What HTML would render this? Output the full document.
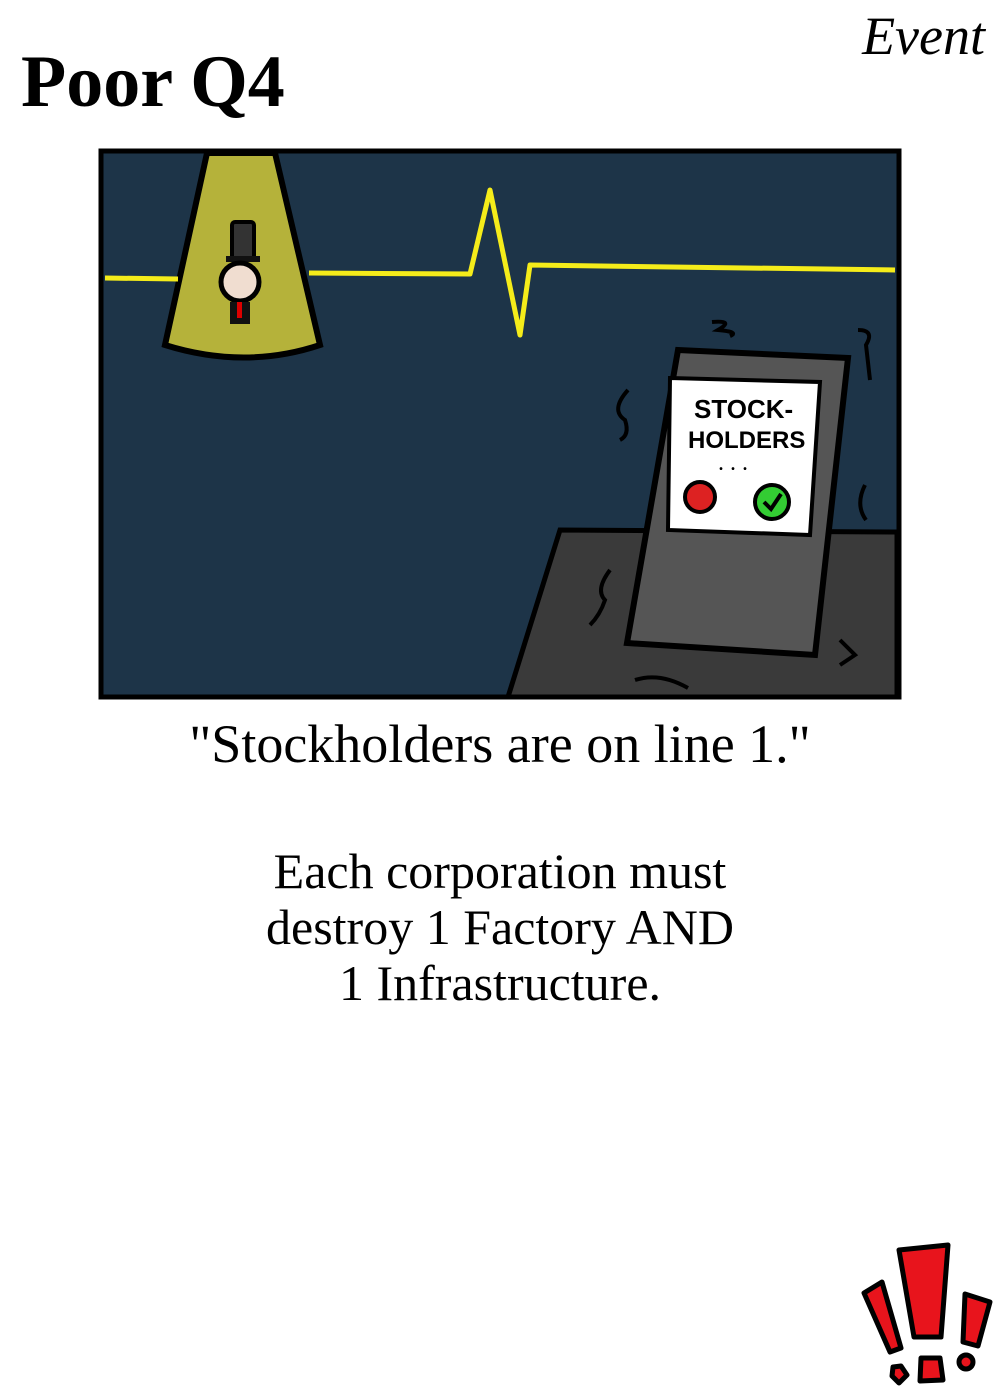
<!DOCTYPE html>
<html><head><meta charset="utf-8"><style>
body{margin:0;width:1000px;height:1400px;background:#fff;position:relative;overflow:hidden;font-family:"Liberation Serif",serif}
.t{position:absolute;white-space:nowrap}
</style></head><body>
<div class="t" style="left:21px;top:40px;font-size:74px;font-weight:bold">Poor Q4</div>
<div class="t" style="right:15px;top:5px;font-size:54px;font-style:italic">Event</div>
<svg style="position:absolute;left:0;top:0" width="1000" height="1400">
<rect x="101" y="151" width="798" height="546" fill="#1d3448" stroke="#000" stroke-width="5"/>
<path d="M207,153 L275,153 L320,345 Q245,370 165,345 Z" fill="#b5b23a" stroke="#000" stroke-width="6"/>
<g stroke="#f5ec1a" stroke-width="5" fill="none" stroke-linejoin="round">
<path d="M105,278 L178,279"/>
<path d="M309,273 L470,274 L490,190 L520,335 L530,265 L895,270"/>
</g>
<rect x="232" y="222" width="22" height="38" rx="3" fill="#333" stroke="#000" stroke-width="4"/>
<rect x="226" y="256" width="34" height="6" fill="#111"/>
<circle cx="240" cy="282" r="19" fill="#f0ddd0" stroke="#000" stroke-width="5"/>
<rect x="230" y="302" width="20" height="22" fill="#111"/>
<rect x="237" y="302" width="5" height="16" fill="#d00"/>
<path d="M508,697 L560,530 L897,532 L897,697 Z" fill="#3a3a3a" stroke="#000" stroke-width="5"/>
<path d="M678,350 L848,358 L815,655 L627,643 Z" fill="#555" stroke="#000" stroke-width="6"/>
<path d="M670,378 L820,382 L810,535 L668,530 Z" fill="#fff" stroke="#000" stroke-width="4"/>
<text x="694" y="418" font-family="Liberation Sans,sans-serif" font-size="26" font-weight="bold">STOCK-</text>
<text x="688" y="448" font-family="Liberation Sans,sans-serif" font-size="24" font-weight="bold">HOLDERS</text>
<text x="718" y="470" font-size="24">. . .</text>
<circle cx="700" cy="497" r="15" fill="#d22" stroke="#000" stroke-width="4"/>
<circle cx="772" cy="502" r="17" fill="#3c3" stroke="#000" stroke-width="4"/>
<path d="M764,502 L771,509 L781,494" stroke="#000" stroke-width="4" fill="none"/>
<g stroke="#000" stroke-width="4" fill="none">
<path d="M712,322 Q735,320 718,330 Q740,332 730,336"/>
<path d="M858,330 Q875,330 866,345 L870,380"/>
<path d="M628,390 Q610,410 625,420 Q630,435 620,440"/>
<path d="M610,570 Q595,590 605,600 Q600,615 590,625"/>
<path d="M840,640 L855,655 L840,665"/>
<path d="M635,680 Q660,672 688,688"/>
<path d="M865,485 Q855,505 866,520"/>
</g>
<g fill="#e8141c" stroke="#000" stroke-width="5" stroke-linejoin="round">
<path d="M899,1250 L948,1245 L941,1337 L914,1337 Z"/>
<path d="M864,1293 L882,1282 L901,1348 L890,1352 Z"/>
<path d="M965,1294 L990,1302 L978,1346 L963,1342 Z"/>
<path d="M893,1367 L901,1366 L907,1375 L899,1383 L892,1376 Z"/>
<path d="M921,1358 L940,1358 L943,1380 L920,1381 Z"/>
<circle cx="966" cy="1362" r="7"/>
</g>
</svg>
<div class="t" style="left:0;width:1000px;text-align:center;top:713px;font-size:54px">"Stockholders are on line 1."</div>
<div class="t" style="left:0;width:1000px;text-align:center;top:843px;font-size:50px;line-height:56px">Each corporation must<br>destroy 1 Factory AND<br>1 Infrastructure.</div>
</body></html>
